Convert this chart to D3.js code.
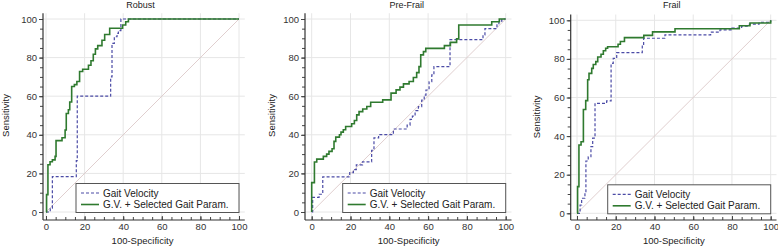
<!DOCTYPE html>
<html>
<head>
<meta charset="utf-8">
<script src="https://cdn.jsdelivr.net/npm/d3@7"></script>
<style>
  body { margin: 0; background: #fff; }
  svg { display: block; font-family: "Liberation Sans", Arial, sans-serif; }
  .tick text { fill: #333; }
</style>
</head>
<body>
<div id="chart"></div>
<script>
// panel titles and legend labels
var panelNames = ["Robust", "Pre-Frail", "Frail"];
var seriesNames = ["Gait Velocity", "G.V. + Selected Gait Param."];
var tickValues = [0, 20, 40, 60, 80, 100];

// ROC points [100-specificity, sensitivity], step after
var robustGV = [[0,0],[1.3,0],[2.2,2],[3.3,18.3],[15.7,26.6],[16.2,60],[33.5,70],[34.2,87.4],[35.4,90.8],[36.8,92.6],[37.5,94],[38.8,100],[100,100]];
var robustGVSel = [[0,0],[0.3,9],[1,24.5],[2.1,26],[3.3,27],[4.7,28.8],[5.2,37],[8.3,38.5],[9.9,42.5],[10.5,51],[11.6,53],[12.3,57],[13.3,65],[14.7,66],[16,67.6],[17.4,72.8],[19,74],[22,76],[23.3,78.4],[24.5,81.7],[25.6,84.5],[26.8,86.2],[29,89],[30.4,92],[33,95.2],[39.7,96.9],[41.3,98.6],[42.7,100],[100,100]];

var preFrailGV = [[0,0],[0.5,7.6],[3.8,9.2],[5.7,18.2],[19.6,20.4],[21.5,22],[23,24.4],[26.2,26],[30.9,32],[32.1,38.4],[34.5,40.1],[42.1,43],[49.2,45],[50.7,48],[51.9,49.7],[53.3,52.5],[55,54.6],[56.7,58],[58,60.6],[58.9,63.2],[60.5,67.5],[61.9,71],[63,75.3],[71.3,89.3],[88.3,91.7],[89.3,95],[95.5,97],[96.5,98.9],[98,100],[100,100]];
var preFrailGVSel = [[0,0],[0,15.2],[1.4,25.9],[2.6,27.4],[6,28.8],[7.7,30],[8.9,31.4],[10.5,32.8],[11.5,36.6],[12.4,38.8],[14.3,40],[15.1,41.4],[16.3,42.6],[17.5,44.3],[20.6,45.7],[22,47.4],[23.2,50.3],[24.4,52],[26.3,53.4],[28.4,54.7],[30.4,56.9],[36.6,58.1],[40.9,61.6],[43.5,63.3],[45.5,64.7],[47.3,66.4],[50.2,67.6],[52.4,69.7],[54.1,72.2],[55.3,75.3],[56.2,81.4],[57.6,83.1],[58.8,84.8],[68.4,86.2],[71.5,87.9],[74.7,89.7],[75.8,96.9],[92.8,98.6],[96.7,100],[100,100]];

var frailGV = [[0,0],[1,0],[1.6,4.3],[2.4,7.8],[4.1,10.4],[4.6,27.1],[5.8,29.3],[7.2,34.5],[8.1,38.9],[9.3,57],[15.3,58.2],[17.6,77.7],[18.7,80.3],[20.5,83.2],[33.7,87.2],[34.4,90.7],[45.4,92.5],[69,93.9],[73.8,95],[80,96],[85,97],[89,98],[94,99],[100,100]];
var frailGVSel = [[0,0],[0.3,13.8],[1,35.4],[2.1,37.1],[3.3,53.8],[4.5,58.4],[5.5,69.2],[6.2,72.5],[7.6,75.1],[8.4,77.1],[9.7,78.6],[10.7,81],[12.4,82.4],[13.6,84.2],[14.8,85.5],[15.8,86.3],[21.2,87.6],[22.4,89],[24.5,91],[34.5,92.2],[39,94],[50.6,95.6],[83.8,97.2],[89.3,98.6],[100,100]];

var panelData = [[robustGV, robustGVSel], [preFrailGV, preFrailGVSel], [frailGV, frailGVSel]];

// pixel layout of each panel
var layout = [
  {x0: 46, x1: 239, y0: 212, y1: 19, axisX: 43, axisY: 220, ox: 0, labX: 9},
  {x0: 311.7, x1: 505.7, y0: 212, y1: 19, axisX: 305, axisY: 220, ox: 260, labX: 275},
  {x0: 577, x1: 770.7, y0: 213.3, y1: 20.3, axisX: 570.7, axisY: 220, ox: 520, labX: 540}
];

var W = 778, H = 247;
var colors = ["#4b4ba6", "#2f7a2f"];

var svg = d3.select("#chart").append("svg")
  .attr("width", W)
  .attr("height", H);

layout.forEach(function (L, i) {
  var g = svg.append("g");

  var x = d3.scaleLinear().domain([0, 100]).range([L.x0, L.x1]);
  var y = d3.scaleLinear().domain([0, 100]).range([L.y0, L.y1]);
  var xEnd = x(103), yEnd = y(103);

  // grid
  g.append("g").selectAll("line")
    .data(tickValues)
    .enter().append("line")
    .attr("x1", d => x(d)).attr("x2", d => x(d))
    .attr("y1", L.axisY).attr("y2", yEnd)
    .attr("stroke", "#e6e6e6");
  g.append("g").selectAll("line")
    .data(tickValues)
    .enter().append("line")
    .attr("x1", L.axisX).attr("x2", xEnd)
    .attr("y1", d => y(d)).attr("y2", d => y(d))
    .attr("stroke", "#e6e6e6");

  // diagonal
  g.append("line")
    .attr("x1", x(0)).attr("y1", y(0))
    .attr("x2", x(100)).attr("y2", y(100))
    .attr("stroke", "#dcc9c9")
    .attr("stroke-width", 0.9);

  // axes
  var minor = d3.range(0, 101, 5);
  g.append("g")
    .attr("transform", "translate(0," + L.axisY + ")")
    .call(d3.axisBottom(x).tickValues(minor).tickSize(-3).tickFormat(""))
    .call(a => a.select(".domain").remove())
    .selectAll("line").attr("stroke", "#444");
  g.append("g")
    .attr("transform", "translate(0," + L.axisY + ")")
    .call(d3.axisBottom(x).tickValues(tickValues).tickSize(-4).tickPadding(3))
    .call(a => a.select(".domain").remove())
    .call(a => a.selectAll("line").attr("stroke", "#444"))
    .selectAll("text").style("font-size", "9.5px");

  g.append("g")
    .attr("transform", "translate(" + L.axisX + ",0)")
    .call(d3.axisLeft(y).tickValues(minor).tickSize(3).tickFormat(""))
    .call(a => a.select(".domain").remove())
    .selectAll("line").attr("stroke", "#444");
  g.append("g")
    .attr("transform", "translate(" + L.axisX + ",0)")
    .call(d3.axisLeft(y).tickValues(tickValues).tickSize(4).tickPadding(2))
    .call(a => a.select(".domain").remove())
    .call(a => a.selectAll("line").attr("stroke", "#444"))
    .selectAll("text").style("font-size", "9.5px");

  g.append("line")
    .attr("x1", L.axisX).attr("x2", L.axisX)
    .attr("y1", L.axisY).attr("y2", yEnd)
    .attr("stroke", "#333").attr("stroke-width", 1.2);
  g.append("line")
    .attr("x1", L.axisX).attr("x2", xEnd)
    .attr("y1", L.axisY).attr("y2", L.axisY)
    .attr("stroke", "#333").attr("stroke-width", 1.2);

  // titles
  g.append("text")
    .attr("x", (L.x0 + L.x1) / 2 - 2)
    .attr("y", 8)
    .attr("text-anchor", "middle")
    .style("font-size", "9px")
    .attr("fill", "#222")
    .text(panelNames[i]);
  g.append("text")
    .attr("x", (L.x0 + L.x1) / 2)
    .attr("y", 244)
    .attr("text-anchor", "middle")
    .style("font-size", "9.5px")
    .attr("fill", "#222")
    .text("100-Specificity");
  g.append("text")
    .attr("transform", "translate(" + L.labX + "," + ((L.y0 + L.y1) / 2) + ")rotate(-90)")
    .attr("text-anchor", "middle")
    .style("font-size", "9.5px")
    .attr("fill", "#222")
    .text("Sensitivity");

  // curves
  var line = d3.line()
    .x(d => x(d[0]))
    .y(d => y(d[1]))
    .curve(d3.curveStepAfter);

  g.append("path")
    .datum(panelData[i][0])
    .attr("fill", "none")
    .attr("stroke", colors[0])
    .attr("stroke-width", 1.2)
    .attr("stroke-dasharray", "3,2")
    .attr("d", line);
  g.append("path")
    .datum(panelData[i][1])
    .attr("fill", "none")
    .attr("stroke", colors[1])
    .attr("stroke-width", 1.6)
    .attr("d", line);

  // legend
  var lw = 163, lh = 29;
  var lx = x(100) - lw, ly = y(0) - lh + 0.5;
  var leg = g.append("g").attr("transform", "translate(" + lx + "," + ly + ")");
  leg.append("rect")
    .attr("width", lw).attr("height", lh)
    .attr("fill", "#fff")
    .attr("stroke", "#555")
    .attr("stroke-width", 1);
  seriesNames.forEach(function (name, k) {
    var yy = 9.5 + k * 11.5;
    leg.append("line")
      .attr("x1", 5).attr("x2", 23)
      .attr("y1", yy).attr("y2", yy)
      .attr("stroke", colors[k])
      .attr("stroke-width", k === 0 ? 1.2 : 1.6)
      .attr("stroke-dasharray", k === 0 ? "3,2" : null);
    leg.append("text")
      .attr("x", 27).attr("y", yy + 3.5)
      .style("font-size", "10px")
      .attr("fill", "#222")
      .text(name);
  });
});
</script>
</body>
</html>
